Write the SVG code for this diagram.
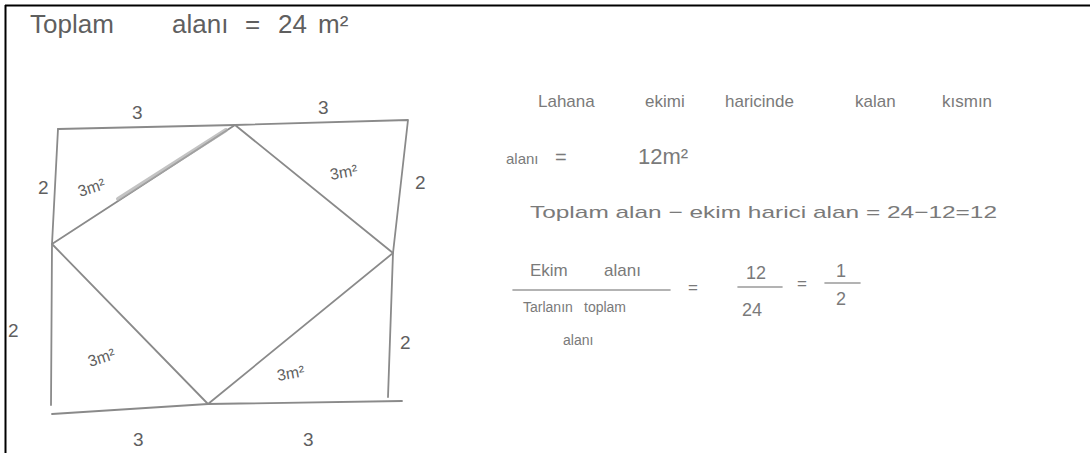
<svg xmlns="http://www.w3.org/2000/svg" width="1090" height="453" viewBox="0 0 1090 453">
<style>
.hw{font-family:"Liberation Sans","DejaVu Sans",sans-serif;fill:#5f5f5f}
.lt{fill:#7a7a7a}
.pen{fill:none;stroke:#8a8a8a;stroke-width:1.8;stroke-linecap:round;stroke-linejoin:round}
.thin{fill:none;stroke:#9a9a9a;stroke-width:1.6;stroke-linecap:round}
</style>
<rect x="0" y="0" width="1090" height="453" fill="#ffffff"/>
<g id="frame" fill="none" stroke="#000" stroke-width="2">
<line x1="5" y1="5.5" x2="1090" y2="5.5"/>
<line x1="5.5" y1="5" x2="5.5" y2="453"/>
</g>
<g id="title" class="hw" font-size="26">
<text x="30" y="33">Toplam</text>
<text x="172" y="33">alanı</text>
<text x="245" y="33">=</text>
<text x="278" y="33">24</text>
<text x="318" y="33">m²</text>
</g>
<g id="figure">
<path class="pen" d="M58,129 L235,125 L408,120 L393,253 L388,397"/>
<path class="pen" d="M58,129 L52,244 L51,405"/>
<path class="pen" d="M52,414 L208,404 L402,401"/>
<path class="pen" d="M52,244 L235,125 L393,253 L208,404 Z"/>
<path d="M118,199 L226,130" fill="none" stroke="#aaaaaa" stroke-width="4" stroke-linecap="round" opacity="0.7"/>
</g>
<g id="figure-labels" class="hw" font-size="19">
<text x="132" y="119">3</text>
<text x="318" y="114">3</text>
<text x="38" y="194">2</text>
<text x="415" y="189">2</text>
<text x="8" y="337">2</text>
<text x="400" y="349">2</text>
<text x="133" y="446">3</text>
<text x="303" y="446">3</text>
<text x="80" y="197" font-size="16" transform="rotate(-18 80 197)">3m²</text>
<text x="331" y="180" font-size="16" transform="rotate(-10 331 180)">3m²</text>
<text x="90" y="367" font-size="16" transform="rotate(-18 90 367)">3m²</text>
<text x="278" y="381" font-size="16" transform="rotate(-10 278 381)">3m²</text>
</g>
<g id="notes" class="hw lt">
<g font-size="17">
<text x="538" y="107">Lahana</text>
<text x="645" y="107">ekimi</text>
<text x="725" y="107">haricinde</text>
<text x="855" y="107">kalan</text>
<text x="942" y="107">kısmın</text>
</g>
<text x="506" y="164" font-size="15">alanı</text>
<text x="555" y="164" font-size="20">=</text>
<text x="638" y="164" font-size="22">12m²</text>
<text x="530" y="218" font-size="17" textLength="467" lengthAdjust="spacingAndGlyphs">Toplam alan − ekim harici alan = 24−12=12</text>
</g>
<g id="fraction" class="hw lt">
<text x="530" y="276" font-size="17">Ekim</text>
<text x="604" y="276" font-size="17">alanı</text>
<line x1="513" y1="290" x2="670" y2="290" class="thin"/>
<text x="523" y="312" font-size="14">Tarlanın</text>
<text x="584" y="312" font-size="14">toplam</text>
<text x="563" y="345" font-size="14">alanı</text>
<text x="688" y="293" font-size="17">=</text>
<text x="746" y="279" font-size="18">12</text>
<line x1="738" y1="287" x2="782" y2="287" class="thin"/>
<text x="742" y="316" font-size="18">24</text>
<text x="797" y="289" font-size="17">=</text>
<text x="836" y="277" font-size="18">1</text>
<line x1="825" y1="283" x2="860" y2="283" class="thin"/>
<text x="836" y="305" font-size="18">2</text>
</g>
</svg>
